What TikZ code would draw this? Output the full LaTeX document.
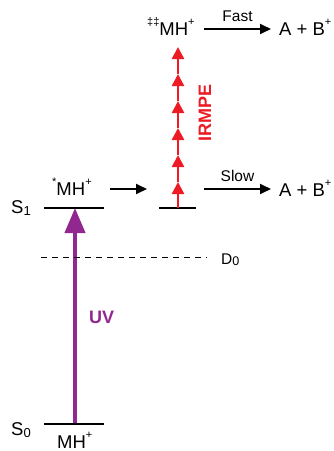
\documentclass[tikz,border=0pt]{standalone}
\usepackage{fontspec}
\setmainfont{Liberation Sans}
\usetikzlibrary{arrows.meta}
\definecolor{irred}{HTML}{ED1C24}
\definecolor{uvpurple}{HTML}{92278F}
\newcommand{\psup}[1]{\raisebox{0.5em}{\fontsize{11}{11}\selectfont #1}}
\newcommand{\psub}[1]{\raisebox{-0.12em}{\fontsize{13}{13}\selectfont #1}}
\newcommand{\ssub}[1]{\raisebox{-0.1em}{\fontsize{12.5}{13}\selectfont #1}}
\begin{document}
\begin{tikzpicture}[x=1pt,y=-1pt,
  level/.style={line width=2.8pt, black},
  rxn/.style={-{Triangle[length=11pt,width=10pt]}, line width=1.8pt},
  lbl/.style={font=\fontsize{18.5}{21}\selectfont, inner sep=0pt},
  small/.style={font=\fontsize{15.5}{17}\selectfont, inner sep=0pt},
  irarrow/.style={irred, line width=2.5pt, -{Triangle[length=12pt,width=12pt]}},
  uvarrow/.style={uvpurple, line width=4pt, -{Triangle[length=25pt,width=20pt]}},
  dashline/.style={line width=1pt, dash pattern=on 6pt off 5pt}
]
\useasboundingbox (0,0) rectangle (334,451);
% UV excitation
\coordinate (uv0) at (75,424);
\coordinate (uv1) at (75,208);
\draw[uvarrow] (uv0) -- (uv1);
\node[font=\fontsize{18}{20}\selectfont\bfseries, text=uvpurple, inner sep=0pt, anchor=west] (UV) at (89,317) {UV};
% levels
\coordinate (s1a) at (44,208); \coordinate (s1b) at (104,208);
\coordinate (s0a) at (44,424); \coordinate (s0b) at (104,424);
\coordinate (s2a) at (159,208); \coordinate (s2b) at (196,208);
\draw[level] (s1a) -- (s1b);
\draw[level] (s0a) -- (s0b);
\draw[level] (s2a) -- (s2b);
\node[lbl, anchor=base west] (S1) at (11,213) {S\psub{1}};
\node[lbl, anchor=base west] (S0) at (11,435) {S\psub{0}};
\node[lbl, anchor=base west] (MH0) at (57,448) {MH\psup{+}};
\node[lbl, anchor=base west] (MHs) at (52,195) {\psup{*}MH\psup{+}};
% D0
\coordinate (d0a) at (41,257); \coordinate (d0b) at (207,257);
\draw[dashline] (d0a) -- (d0b);
\node[small, anchor=base west] (D0) at (221,264) {D\ssub{0}};
% middle arrow
\coordinate (m1) at (110,189); \coordinate (m2) at (147,189);
\draw[rxn] (m1) -- (m2);
% IRMPE ladder
\coordinate (r0) at (178,208);
\coordinate (r1) at (178,182);
\coordinate (r2) at (178,155);
\coordinate (r3) at (178,128);
\coordinate (r4) at (178,101);
\coordinate (r5) at (178,74);
\coordinate (r6) at (178,47);
\draw[irarrow] (r0) -- (r1);
\draw[irarrow] (r1) -- (r2);
\draw[irarrow] (r2) -- (r3);
\draw[irarrow] (r3) -- (r4);
\draw[irarrow] (r4) -- (r5);
\draw[irarrow] (r5) -- (r6);
\node[font=\fontsize{18}{20}\selectfont\bfseries, text=irred, inner sep=0pt, rotate=90] (IR) at (205,113) {IRMPE};
% slow channel
\coordinate (sl1) at (204,189); \coordinate (sl2) at (271,189);
\draw[rxn] (sl1) -- node[small, above=6pt] (SLOW) {Slow} (sl2);
\node[lbl, anchor=base west] (AB2) at (279,196) {A + B\psup{+}};
% fast channel
\node[lbl, anchor=base west] (MHdd) at (147,35) {\psup{‡‡}MH\psup{+}};
\coordinate (f1) at (204,29); \coordinate (f2) at (271,29);
\draw[rxn] (f1) -- node[small, above=6pt] (FAST) {Fast} (f2);
\node[lbl, anchor=base west] (AB1) at (279,35) {A + B\psup{+}};
\end{tikzpicture}
\end{document}
